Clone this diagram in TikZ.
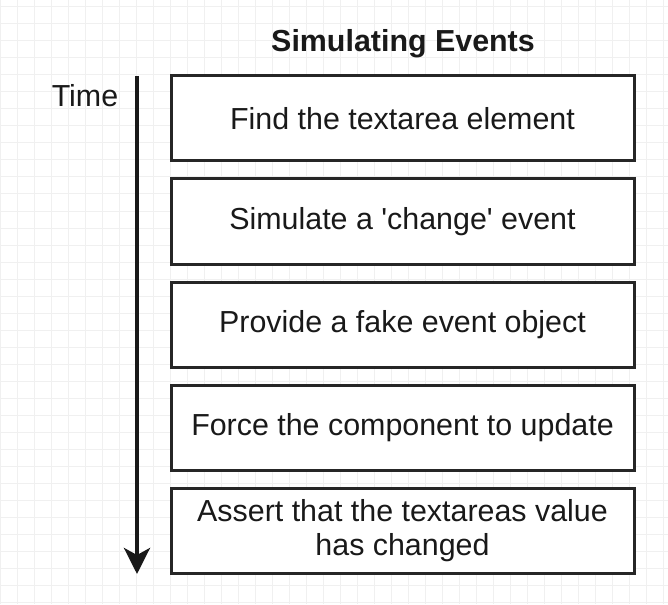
\documentclass[tikz,border=0pt]{standalone}
\usepackage{fontspec}
\setmainfont{Liberation Sans}
\usetikzlibrary{arrows.meta}

\begin{document}
\begin{tikzpicture}[x=0.5pt,y=-0.5pt]
	\tikzstyle{every text node part}=[font=\fontsize{15.2}{17}\selectfont, text = black!90]
	\tikzset{stepbox/.style = {draw = black!85, line width = 1.5pt, fill = white, minimum width = 231.5pt, minimum height = 42.5pt, align = center, inner sep = 0pt}}

%% Background grid
\useasboundingbox (0,0) rectangle (668,604);
\fill[white] (0,0) rectangle (668,604);
\foreach \gx in {0,17,...,668} \draw[black!6, line width = 0.5pt] (\gx,0) -- (\gx,604);
\foreach \gy in {7,24,...,604} \draw[black!6, line width = 0.5pt] (0,\gy) -- (668,\gy);

%% Title
\draw (403,44) node[name = title]{\textbf{Simulating Events}};

%% Time axis
\draw (85,96) node[name = time]{Time};
\coordinate (tstart) at (137,76);
\coordinate (tend) at (137,574);
\draw[-{Stealth[length = 13pt, width = 13pt, inset = 3.5pt]}, line width = 2pt, black!90] (tstart) -- (tend);

%% Steps
\draw (402.5,118.5) node[stepbox, name = find]{Find the textarea element};
\draw (402.5,221.5) node[stepbox, name = simulate]{Simulate a \textquotesingle change\textquotesingle\ event};
\draw (402.5,324.5) node[stepbox, name = provide]{Provide a fake event object};
\draw (402.5,427.5) node[stepbox, name = force]{Force the component to update};
\draw (402.5,530.5) node[stepbox, name = assert]{Assert that the textareas value\\has changed};
\end{tikzpicture}
\end{document}
